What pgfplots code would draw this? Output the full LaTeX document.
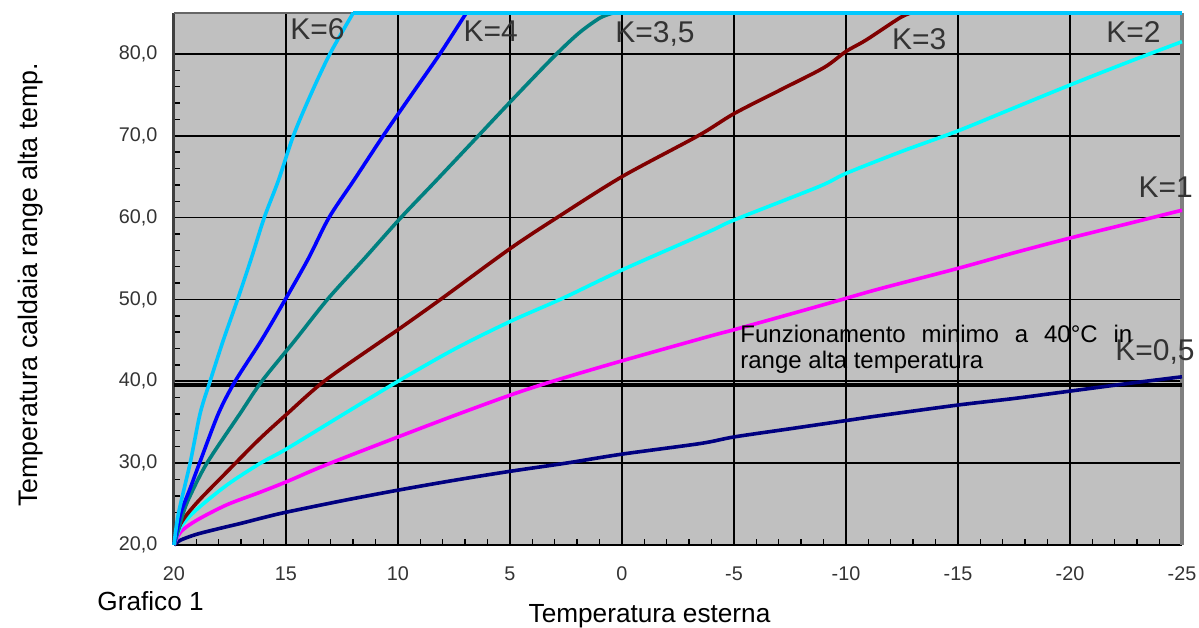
\documentclass[border=0pt]{standalone}
\usepackage{fontspec}
\setmainfont{Liberation Sans}
\usepackage{pgfplots}
\pgfplotsset{compat=1.18}
\definecolor{bg}{HTML}{C0C0C0}
\definecolor{ksix}{RGB}{0,200,255}
\definecolor{kfour}{RGB}{0,0,255}
\definecolor{kthreefive}{RGB}{0,128,128}
\definecolor{kthree}{RGB}{128,0,0}
\definecolor{ktwo}{RGB}{0,255,255}
\definecolor{kone}{RGB}{255,0,255}
\definecolor{khalf}{RGB}{0,0,128}
\definecolor{txt}{HTML}{333333}
\begin{document}
\begin{tikzpicture}
\begin{axis}[
  scale only axis, width=504pt, height=266pt,
  x dir=reverse, xmin=-25, xmax=20, ymin=20, ymax=85,
  xtick={-25,-20,...,20}, ytick={20,30,...,80},
  minor x tick num=4, minor y tick num=4,
  grid=major, major grid style={black, line width=0.8pt},
  axis background/.style={fill=bg},
  axis line style={draw=none},
  tick align=inside, xtick pos=left, ytick pos=left,
  major tick length=3pt, minor tick length=3pt,
  tick style={black, line width=0.7pt},
  tick label style={font=\fontsize{9.9}{11}\selectfont, text=txt},
  xticklabel style={yshift=-7.5pt, /pgf/number format/assume math mode=true},
  yticklabel style={xshift=-4.75pt, /pgf/number format/.cd, fixed, fixed zerofill, precision=1, use comma, assume math mode=true},
  every axis plot/.append style={line width=1.8pt},
  clip=false,
]
\draw[line width=1.5pt, black!75] (axis cs:20,20) -- (axis cs:20,85);
\draw[line width=1pt, black] (axis cs:20,20) -- (axis cs:-25,20);
\draw[line width=1.6pt, gray] (axis cs:-25,20) -- (axis cs:-25,85);
\draw[line width=1pt, black!60] (axis cs:20,85) -- (axis cs:-25,85);
\addplot[black, line width=2pt] coordinates {(20,39.5) (-25,39.5)};
\addplot[khalf, smooth, tension=0.5] coordinates {(20,20) (19.7,20.6) (19,21.3) (18,22.0) (17,22.65) (16,23.35) (15,24.0) (12.5,25.4) (10,26.7) (7.5,27.9) (5,29.0) (2.5,30.0) (0,31.1) (-3.5,32.4) (-5,33.2) (-7.5,34.2) (-10,35.2) (-11.5,35.8) (-15,37.1) (-17.5,37.9) (-20,38.8) (-22.5,39.7) (-25,40.55)};
\addplot[kone, smooth, tension=0.5] coordinates {(20,20) (19.7,21.6) (19,23.0) (17.65,24.9) (16.2,26.4) (15,27.7) (13.2,29.8) (10,33.2) (7.5,35.8) (5,38.3) (3.1,40.0) (0,42.5) (-3.9,45.5) (-5,46.3) (-7.5,48.2) (-9.7,49.9) (-11.5,51.3) (-15,53.8) (-17.5,55.7) (-20,57.5) (-22.5,59.2) (-25,60.9)};
\addplot[ktwo, smooth, tension=0.5] coordinates {(20,20) (19.7,22.2) (19,24.3) (17.65,27.3) (16.2,29.9) (15,31.7) (12.6,35.7) (10,40.0) (7.5,43.9) (5,47.3) (2.6,50.2) (0,53.6) (-3.9,58.3) (-5,59.7) (-8.8,63.8) (-10,65.4) (-12.5,68.1) (-15,70.6) (-17.5,73.4) (-20,76.2) (-22.5,78.9) (-25,81.5)};
\addplot[kthree, smooth, tension=0.5] coordinates {(20,20) (19.7,22.6) (19,25.1) (17.65,28.9) (16.2,32.9) (15,35.9) (13.3,40.0) (10.8,44.8) (10,46.3) (8.1,50.0) (5,56.2) (2.9,60.0) (0,65.0) (-3.4,70.0) (-5,72.7) (-7,75.5) (-9,78.3) (-10,80.3) (-10.9,81.7) (-12.4,84.4) (-12.9,85)};
\addplot[kthree] coordinates {(-12.9,85) (-25,85)};
\addplot[kthreefive, smooth, tension=0.5] coordinates {(20,20) (19.6,23.8) (19.3,25.9) (18.53,30.0) (17.04,36.1) (16.08,40.0) (14.6,45.0) (13.15,50.0) (11.5,55.0) (9.87,60.0) (8.27,64.6) (6.41,70.0) (5.45,72.8) (4.2,76.4) (2.92,80.0) (1.9,82.6) (0.98,84.4) (0.4,85)};
\addplot[kthreefive] coordinates {(0.4,85) (-25,85)};
\addplot[kfour, smooth, tension=0.5] coordinates {(20,20) (19.7,23.85) (19.28,26.9) (18.86,30.0) (18.01,36.1) (17.27,40.0) (16.1,45.0) (15.03,50.0) (14.0,55.0) (13.08,60.0) (11.96,64.6) (10.66,70.0) (9.4,75.0) (8.13,80.0) (6.95,85)};
\addplot[kfour] coordinates {(6.95,85) (-25,85)};
\addplot[ksix, smooth, tension=0.5] coordinates {(20,20) (19.8,23.85) (19.28,30.0) (18.83,36.1) (18.39,40.0) (17.8,45.0) (17.16,50.0) (16.55,55.0) (15.97,60.0) (15.33,64.6) (14.67,70.0) (13.9,75.0) (13.04,80.0) (12.0,85)};
\addplot[ksix] coordinates {(12.0,85) (-25,85)};
\coordinate (SW) at (axis cs:20,20);
\coordinate (NE) at (axis cs:-25,85);
\end{axis}
\begin{scope}[every node/.style={inner sep=0pt, anchor=base west, text=txt, font=\fontsize{15}{18}\selectfont}]
\node at ([shift={(58pt,252.5pt)}]SW) {K=6};
\node at ([shift={(144.65pt,251.65pt)}]SW) {K=4};
\node at ([shift={(220.5pt,251.15pt)}]SW) {K=3,5};
\node at ([shift={(358.85pt,247.5pt)}]SW) {K=3};
\node at ([shift={(466pt,251.15pt)}]SW) {K=2};
\node at ([shift={(482.15pt,173.85pt)}]SW) {K=1};
\node at ([shift={(470.5pt,92.15pt)}]SW) {K=0,5};
\end{scope}
\begin{scope}[every node/.style={inner sep=0pt, anchor=base west, text=black, font=\fontsize{12}{14}\selectfont}]
\node at ([shift={(283pt,101.15pt)}]SW) {\makebox[196pt][s]{Funzionamento minimo a 40°C in}};
\node at ([shift={(283pt,88.35pt)}]SW) {range alta temperatura};
\end{scope}
\node[inner sep=0pt, anchor=base, font=\fontsize{13.1}{15}\selectfont] at ([shift={(237.75pt,-39pt)}]SW) {Temperatura esterna};
\node[inner sep=0pt, anchor=base west, font=\fontsize{13.1}{15}\selectfont] at ([shift={(-38.5pt,-33pt)}]SW) {Grafico 1};
\node[inner sep=0pt, anchor=base, rotate=90, font=\fontsize{13.4}{15}\selectfont] at ([shift={(-68.35pt,130.1pt)}]SW) {Temperatura caldaia range alta temp.};
\pgfresetboundingbox
\path[use as bounding box] ([shift={(-87pt,-41.5pt)}]SW) rectangle ([shift={(8.5pt,6.5pt)}]NE);
\end{tikzpicture}
\end{document}
